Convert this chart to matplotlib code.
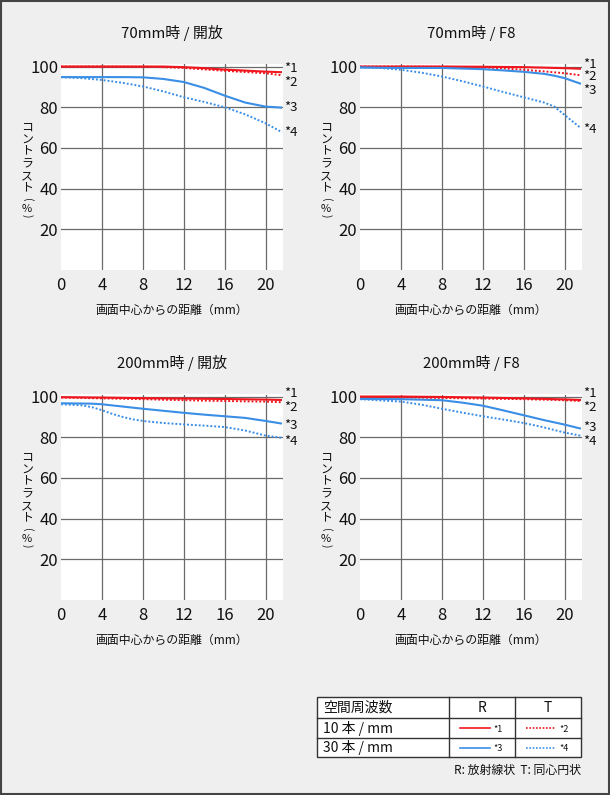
import matplotlib
matplotlib.use("Agg")
import matplotlib.pyplot as plt
from matplotlib.patches import Rectangle
from matplotlib.lines import Line2D

plt.rcParams['font.family'] = ['Noto Sans CJK JP', 'DejaVu Sans']

# ---- data (image height in mm vs contrast %) ----
titles = ["70mm時 / 開放", "70mm時 / F8", "200mm時 / 開放", "200mm時 / F8"]

# 70mm open
p1_x1 = [0, 4, 8, 10, 12, 14, 16, 18, 20, 21.6]
p1_r10 = [100, 100, 100, 100, 99.7, 99.2, 98.5, 98.0, 97.5, 97.2]
p1_x2 = [0, 4, 8, 10, 12, 14, 16, 18, 20, 21.6]
p1_t10 = [100, 100, 99.9, 99.7, 99.3, 98.6, 97.9, 97.3, 96.7, 95.7]
p1_x3 = [0, 2, 4, 6, 8, 10, 12, 14, 16, 18, 20, 21.6]
p1_r30 = [94.8, 94.8, 94.8, 94.8, 94.7, 93.9, 92.4, 89.5, 85.7, 82.3, 80.3, 79.8]
p1_x4 = [0, 2, 4, 6, 8, 10, 12, 14, 16, 18, 20, 21.6]
p1_t40 = [94.8, 94.3, 93.4, 92.0, 90.2, 87.8, 84.9, 82.6, 80.0, 76.5, 72.1, 67.7]

# 70mm F8
p2_x1 = [0, 4, 8, 12, 16, 20, 21.6]
p2_r10 = [100, 100, 100, 99.9, 99.7, 99.2, 98.9]
p2_x2 = [0, 4, 8, 12, 14, 16, 18, 20, 21.6]
p2_t10 = [100, 100, 99.9, 99.6, 99.1, 98.4, 97.6, 96.7, 95.7]
p2_x3 = [0, 4, 8, 12, 14, 16, 18, 19, 20, 21.6]
p2_r30 = [99.5, 99.3, 99.3, 98.7, 98.1, 97.4, 96.4, 95.5, 94.3, 91.5]
p2_x4 = [0, 2, 4, 6, 8, 10, 12, 14, 16, 18, 19, 20, 21.6]
p2_t40 = [99.7, 99.3, 98.4, 97.0, 95.1, 92.8, 90.2, 87.5, 84.9, 82.3, 80.3, 76.2, 69.7]

# 200mm open
p3_x1 = [0, 4, 8, 12, 16, 20, 21.6]
p3_r10 = [99.7, 99.5, 99.2, 99.0, 98.8, 98.5, 98.3]
p3_x2 = [0, 4, 8, 12, 16, 20, 21.6]
p3_t10 = [99.5, 99.1, 98.7, 98.2, 97.8, 97.5, 97.2]
p3_x3 = [0, 3, 4, 6, 8, 10, 12, 14, 16, 18, 20, 21.6]
p3_r30 = [96.7, 96.5, 96.2, 95.1, 94.0, 93.0, 92.0, 91.1, 90.3, 89.5, 88.0, 86.7]
p3_x4 = [0, 2, 3, 4, 5, 6, 7, 8, 10, 12, 14, 16, 18, 20, 21.6]
p3_t40 = [96.2, 95.7, 94.8, 93.3, 91.5, 90.0, 88.8, 88.0, 87.0, 86.3, 85.7, 85.0, 83.3, 80.8, 79.7]

# 200mm F8
p4_x1 = [0, 4, 8, 12, 16, 20, 21.6]
p4_r10 = [100, 100, 99.8, 99.5, 99.1, 98.6, 98.3]
p4_x2 = [0, 4, 8, 12, 16, 20, 21.6]
p4_t10 = [99.8, 99.6, 99.3, 99.0, 98.7, 98.2, 97.8]
p4_x3 = [0, 4, 8, 10, 12, 14, 16, 18, 20, 21.6]
p4_r30 = [98.8, 98.7, 98.2, 97.0, 95.5, 93.2, 90.8, 88.4, 86.2, 84.2]
p4_x4 = [0, 4, 6, 8, 10, 12, 14, 16, 18, 20, 21.6]
p4_t40 = [98.7, 97.5, 96.0, 94.0, 92.1, 90.3, 88.7, 87.0, 84.8, 82.3, 80.7]

panels = [
    [(p1_x1, p1_r10), (p1_x2, p1_t10), (p1_x3, p1_r30), (p1_x4, p1_t40)],
    [(p2_x1, p2_r10), (p2_x2, p2_t10), (p2_x3, p2_r30), (p2_x4, p2_t40)],
    [(p3_x1, p3_r10), (p3_x2, p3_t10), (p3_x3, p3_r30), (p3_x4, p3_t40)],
    [(p4_x1, p4_r10), (p4_x2, p4_t10), (p4_x3, p4_r30), (p4_x4, p4_t40)],
]
series_names = ["*1", "*2", "*3", "*4"]
x_ticks = [0, 4, 8, 12, 16, 20]
y_ticks = [20, 40, 60, 80, 100]
x_label = "画面中心からの距離（mm）"
y_label_chars = ["コ", "ン", "ト", "ラ", "ス", "ト", "(", "%", ")"]

# label placement (layout, data units)
label_y = [
    [99.2, 92.2, 79.8, 67.5],
    [100.9, 95.2, 88.2, 68.9],
    [101.3, 94.7, 85.8, 78.0],
    [101.3, 94.8, 84.6, 77.8],
]

RED = "#f0161e"
BLUE = "#3a8ee6"
styles = [
    dict(color=RED, lw=1.5, ls="-"),
    dict(color=RED, lw=1.4, ls=(0, (1, 1))),
    dict(color=BLUE, lw=1.5, ls="-"),
    dict(color=BLUE, lw=1.4, ls=(0, (1, 1))),
]
BG = "#efefef"
GRID = "#6a6a6a"
TXT = "#111111"

W, H = 610, 795
fig = plt.figure(figsize=(W / 100, H / 100), dpi=100, facecolor=BG)

# overlay axes in pixel coordinates (legend table, border, vertical labels)
ov = fig.add_axes([0, 0, 1, 1], facecolor="none", zorder=5)
ov.set_xlim(0, W)
ov.set_ylim(H, 0)
ov.axis("off")

# pixel layout of the panels: (left, top)
pos = [(61, 64.5), (360, 64.5), (61, 394.5), (360, 394.5)]
pw, ph = 222, 205.5
# vertical label glyph offsets from panel top (px) and glyph rotations
ylab_dy = [62.5, 74.7, 86.9, 99.1, 111.3, 123.5, 135.5, 144.0, 151.5]
ylab_rot = [0, 0, 0, 0, 0, 0, -90, 0, -90]
ylab_fs = [8.6, 8.6, 8.6, 8.6, 8.6, 8.6, 7.5, 8.0, 7.5]

for i, (l, t) in enumerate(pos):
    ax = fig.add_axes([l / W, 1 - (t + ph) / H, pw / W, ph / H])
    ax.set_facecolor("white")
    ax.set_xlim(0, 21.7)
    ax.set_ylim(0, 101)
    for s in ax.spines.values():
        s.set_visible(False)
    for yv in y_ticks:
        ax.axhline(yv, color=GRID, lw=0.9, zorder=1)
    for xv in x_ticks[1:]:
        ax.axvline(xv, color=GRID, lw=0.9, zorder=1)
    ax.set_xticks(x_ticks)
    ax.set_yticks(y_ticks)
    ax.tick_params(length=0, labelsize=12, colors=TXT)
    ax.tick_params(axis="y", pad=2)
    ax.tick_params(axis="x", pad=5)
    for (xs, ys), st in zip(panels[i], styles):
        ax.plot(xs, ys, zorder=3, solid_capstyle="butt", dash_capstyle="butt", **st)
    for name, ly in zip(series_names, label_y[i]):
        ax.text(21.85, ly, name, fontsize=9.5, va="center", ha="left",
                color=TXT, clip_on=False)
    ax.set_title(titles[i], fontsize=10.8, pad=19, color=TXT)
    ax.set_xlabel(x_label, fontsize=8.6, labelpad=7, color=TXT)
    # vertical (tategaki) y label: one upright glyph per position
    for ch, dy, rot, fs in zip(y_label_chars, ylab_dy, ylab_rot, ylab_fs):
        ov.text(l - 34, t + dy, ch, fontsize=fs, rotation=rot, ha="center",
                va="center", color=TXT, rotation_mode="anchor")

ov.add_patch(Rectangle((0.75, 0.75), W - 1.5, H - 1.5, fill=False, ec="#444444", lw=1.5))

tl, tr = 317, 581
rows = [697, 718, 738, 757]
cols = [317, 449, 515, 581]
ov.add_patch(Rectangle((tl, rows[0]), tr - tl, rows[-1] - rows[0], fc="white",
                       ec="#333333", lw=1.0))
for r in rows[1:-1]:
    ov.add_line(Line2D([tl, tr], [r, r], color="#333333", lw=1.0))
for c in cols[1:-1]:
    ov.add_line(Line2D([c, c], [rows[0], rows[-1]], color="#333333", lw=1.0))

row_text = ["空間周波数", "10 本 / mm", "30 本 / mm"]
for k, txt in enumerate(row_text):
    ov.text(323, (rows[k] + rows[k + 1]) / 2, txt, fontsize=10, va="center", ha="left",
            color=TXT)
ov.text((cols[1] + cols[2]) / 2, (rows[0] + rows[1]) / 2, "R", fontsize=10,
        ha="center", va="center", color=TXT)
ov.text((cols[2] + cols[3]) / 2, (rows[0] + rows[1]) / 2, "T", fontsize=10,
        ha="center", va="center", color=TXT)

for k, st in enumerate(styles):
    r = 1 + k // 2
    c = 1 + k % 2
    yc = (rows[r] + rows[r + 1]) / 2
    x0 = cols[c] + 11
    ov.add_line(Line2D([x0, x0 + 30], [yc, yc], color=st["color"], lw=1.2, ls=st["ls"]))
    ov.text(x0 + 33, yc + 1, series_names[k], fontsize=6.5, va="center", ha="left",
            color=TXT)

ov.text(tr, 770, "R: 放射線状  T: 同心円状", fontsize=8.6, ha="right", va="center",
        color=TXT)

fig.savefig("out.png", dpi=100, facecolor=BG)
